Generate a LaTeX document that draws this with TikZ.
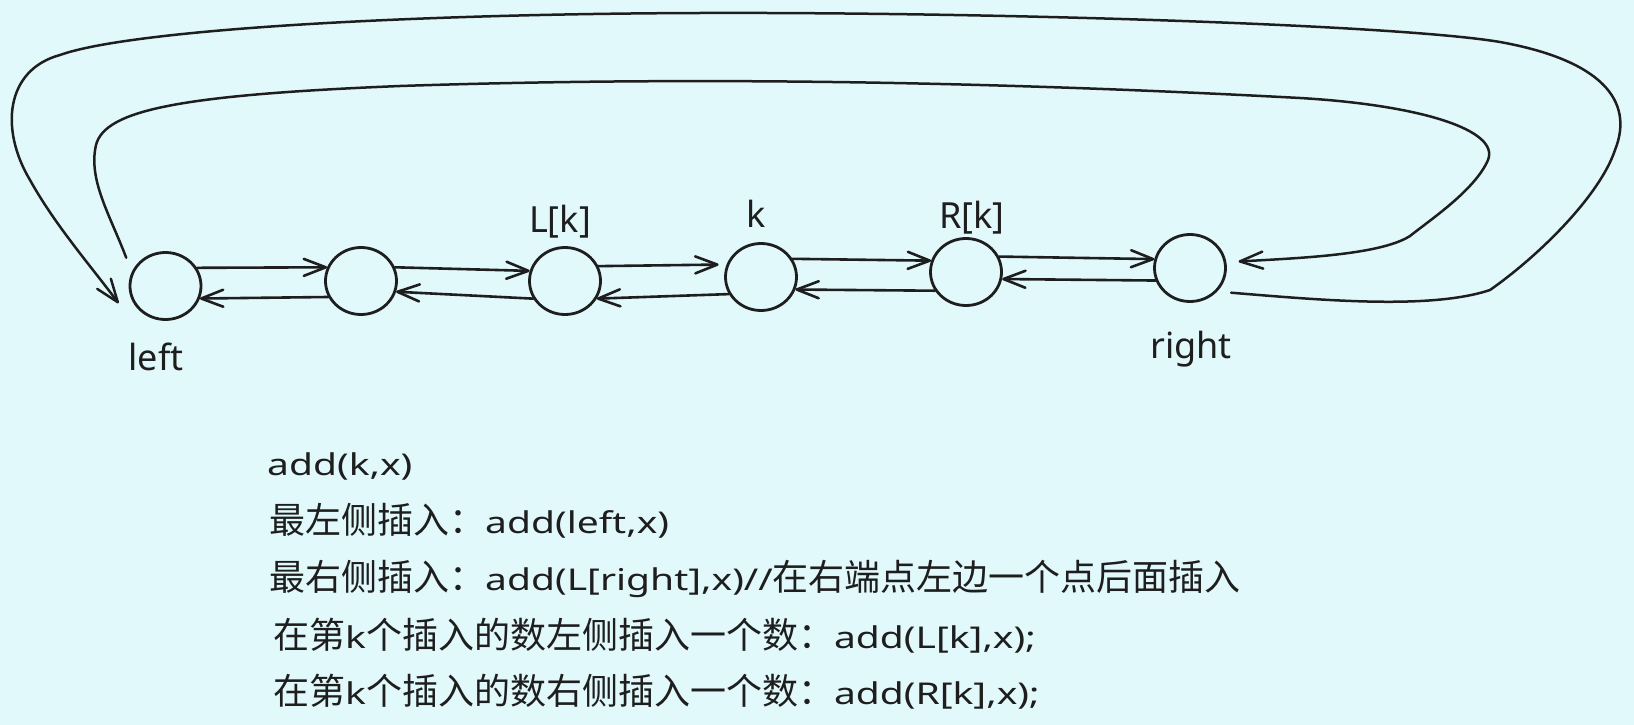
\documentclass[tikz,border=0pt]{standalone}
\usepackage{fontspec}
\usetikzlibrary{shapes.geometric,arrows.meta}
\newfontfamily\cjkfont{Noto Sans CJK SC}
\newfontfamily\latfont[FakeStretch=1.3]{Noto Sans}
\newfontfamily\lblfont{Noto Sans}
\newcommand{\cj}[1]{{\cjkfont\fontsize{36}{40}\selectfont #1}}
\newcommand{\la}[1]{{\latfont\fontsize{30}{36}\selectfont #1}}
\definecolor{bg}{HTML}{E2F9FC}
\definecolor{ink}{HTML}{1E1E1E}
\begin{document}
\begin{tikzpicture}[x=1pt,y=-1pt,
  cell/.style={ellipse, draw=ink, line width=2.8pt, minimum width=71pt, minimum height=67pt, inner sep=0pt},
  link/.style={draw=ink, line width=2.6pt, line cap=round, -{Straight Barb[length=22pt,width=17pt,round]}},
  loopline/.style={draw=ink, line width=2.5pt, line cap=round, -{Straight Barb[length=23pt,width=17pt,round]}},
  lbl/.style={font=\lblfont\fontsize{36}{40}\selectfont, text=ink, inner sep=0pt, anchor=base},
  txt/.style={text=ink, inner sep=0pt, anchor=base west}]
\fill[bg] (0,0) rectangle (1634,725);
\useasboundingbox (0,0) rectangle (1634,725);

% list cells
\node[cell] (left)  at (165.5,286) {};
\node[cell] (n2)    at (361,281) {};
\node[cell] (Lk)    at (565,281) {};
\node[cell] (kk)    at (761,277) {};
\node[cell] (Rk)    at (966,272) {};
\node[cell] (right) at (1190,268) {};

% labels
\node[lbl] (tleft)  at (156,370) {left};
\node[lbl] (tright) at (1191,358) {right};
\node[lbl] (tLk)    at (560,232) {L[k]};
\node[lbl] (tk)     at (756,227) {k};
\node[lbl] (tRk)    at (972,228) {R[k]};

% forward links
\draw[link] (left.30) -- (n2.158);
\draw[link] (n2.22) -- (Lk.164);
\draw[link, shorten >=8pt] (Lk.24) -- (kk.160);
\draw[link] (kk.30) -- (Rk.162);
\draw[link] (Rk.25) -- (right.166);
% backward links
\draw[link] (n2.206) -- (left.-20);
\draw[link] (Lk.209) -- (n2.-17);
\draw[link] (kk.208) -- (Lk.-29);
\draw[link] (Rk.211) -- (kk.-20);
\draw[link] (right.200) -- (Rk.-11);

% inner loop: left -> right
\draw[loopline] ([shift={(-10pt,7pt)}]left.144)
  .. controls (110,215) and (88,180) .. (96,145)
  .. controls (105,110) and (180,95) .. (400,86)
  .. controls (700,76) and (1000,82) .. (1300,98)
  .. controls (1420,105) and (1500,130) .. (1488,160)
  .. controls (1475,190) and (1430,220) .. (1410,236)
  .. controls (1380,255) and (1300,258) .. ([shift={(12pt,2pt)}]right.7);
% outer loop: right -> left
\draw[loopline] ([shift={(10pt,-6pt)}]right.-31)
  .. controls (1320,300) and (1430,310) .. (1490,290)
  .. controls (1540,255) and (1600,195) .. (1615,150)
  .. controls (1635,100) and (1600,60) .. (1500,42)
  .. controls (1400,25) and (1000,12) .. (700,13)
  .. controls (400,14) and (130,30) .. (60,55)
  .. controls (5,70) and (0,130) .. (30,180)
  .. controls (55,225) and (90,265) .. ([shift={(-12.5pt,-4.7pt)}]left.200);

% text block
\node[txt] (l1) at (267,475) {\la{add(k,x)}};
\node[txt] (l2) at (269,533) {\cj{最左侧插入：}\la{add(left,x)}};
\node[txt] (l3) at (269,590) {\cj{最右侧插入：}\la{add(L[right],x)//}\cj{在右端点左边一个点后面插入}};
\node[txt] (l4) at (273,648) {\cj{在第}\la{k}\cj{个插入的数左侧插入一个数：}\la{add(L[k],x);}};
\node[txt] (l5) at (273,704) {\cj{在第}\la{k}\cj{个插入的数右侧插入一个数：}\la{add(R[k],x);}};
\end{tikzpicture}
\end{document}
